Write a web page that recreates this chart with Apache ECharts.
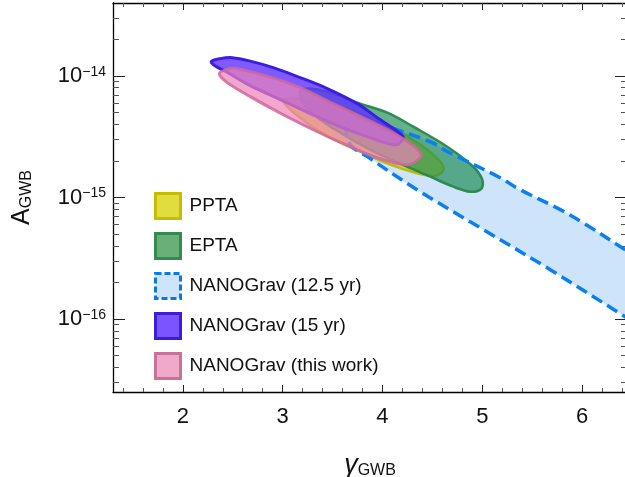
<!DOCTYPE html>
<html>
<head>
<meta charset="utf-8">
<script src="https://cdn.jsdelivr.net/npm/echarts@6/dist/echarts.min.js"></script>
<style>
html, body { margin: 0; padding: 0; background: #fff; }
#chart { width: 625px; height: 477px; }
</style>
</head>
<body>
<div id="chart"></div>
<script>
// axis ranges and tick labels (x = gamma, y = log10 A)
var gammaRange = [1.3, 6.45];
var logARange = [-16.6, -13.4];
var gammaTicks = [2, 3, 4, 5, 6];
var logATicks = [-16, -15, -14];

var legendNames = ['PPTA', 'EPTA', 'NANOGrav (12.5 yr)', 'NANOGrav (15 yr)', 'NANOGrav (this work)'];

// contour outlines, points are [gamma, log10 A]
var ng125Pts = [
    [3.637, -14.426], [3.697, -14.343], [3.878, -14.352], [4.098, -14.428], [4.476, -14.541],
    [4.679, -14.634], [5.180, -14.837], [5.348, -14.922], [5.782, -15.100], [6.015, -15.210],
    [6.432, -15.430], [6.983, -15.718], [7.185, -15.965], [6.983, -16.268], [6.432, -15.981],
    [5.681, -15.594], [5.013, -15.265], [4.346, -14.936], [3.845, -14.662], [3.677, -14.565]
];
var pptaPts = [
    [3.006, -14.195], [3.176, -14.187], [3.477, -14.228], [3.778, -14.310], [4.078, -14.417],
    [4.379, -14.565], [4.579, -14.705], [4.609, -14.779], [4.529, -14.821], [4.329, -14.796],
    [4.078, -14.730], [3.778, -14.623], [3.477, -14.508], [3.227, -14.376], [3.056, -14.261]
];
var eptaPts = [
    [3.176, -14.121], [3.297, -14.105], [3.477, -14.137], [3.747, -14.220], [4.048, -14.302],
    [4.309, -14.417], [4.649, -14.582], [4.910, -14.747], [5.000, -14.853], [4.990, -14.928],
    [4.880, -14.952], [4.709, -14.911], [4.479, -14.829], [4.178, -14.722], [3.877, -14.607],
    [3.577, -14.467], [3.327, -14.327], [3.196, -14.212]
];
var ng15Pts = [
    [2.285, -13.882], [2.375, -13.858], [2.495, -13.850], [2.675, -13.878], [2.905, -13.932],
    [3.176, -14.014], [3.447, -14.104], [3.747, -14.228], [3.948, -14.343], [4.098, -14.426],
    [4.188, -14.483], [4.208, -14.516], [4.128, -14.566], [3.878, -14.508], [3.577, -14.418],
    [3.277, -14.310], [2.976, -14.195], [2.675, -14.080], [2.455, -13.975], [2.325, -13.918]
];
var thisWorkPts = [
    [2.365, -13.981], [2.435, -13.948], [2.525, -13.936], [2.846, -14.002], [3.176, -14.096],
    [3.507, -14.228], [3.848, -14.360], [4.108, -14.467], [4.309, -14.574], [4.379, -14.632],
    [4.379, -14.673], [4.248, -14.730], [3.978, -14.681], [3.677, -14.582], [3.347, -14.459],
    [3.006, -14.319], [2.675, -14.170], [2.445, -14.055]
];

var font = 'Liberation Sans, Arial, sans-serif';

// minor ticks: 0.2 steps on gamma, 2..9 x 10^n on A
var gammaMinor = [];
for (var i = 14; i < 65; i += 2) {
    if (i % 10 != 0) gammaMinor.push(i / 10);
}
var logAMinor = [];
for (var n = -17; n <= -14; n++) {
    for (var k = 2; k <= 9; k++) {
        var v = n + Math.log10(k);
        if (v > logARange[0] && v < logARange[1]) logAMinor.push(v);
    }
}

function xAx(pos, ticks, len, major) {
    return {
        type: 'value', position: pos, min: gammaRange[0], max: gammaRange[1],
        axisLine: {show: major, onZero: false, lineStyle: {color: '#000', width: 1.3}},
        axisTick: {show: true, inside: true, length: len, customValues: ticks,
            lineStyle: {color: major ? '#222' : '#555', width: 1}},
        axisLabel: {show: false},
        splitLine: {show: false}
    };
}
function yAx(pos, ticks, len, major) {
    return {
        type: 'value', position: pos, min: logARange[0], max: logARange[1],
        axisLine: {show: major, onZero: false, lineStyle: {color: '#000', width: 1.3}},
        axisTick: {show: true, inside: true, length: len, customValues: ticks,
            lineStyle: {color: major ? '#222' : '#555', width: 1}},
        axisLabel: {show: false},
        splitLine: {show: false}
    };
}

var xAxes = [xAx('bottom', gammaTicks, 7, true), xAx('bottom', gammaMinor, 4, false),
    xAx('top', gammaTicks, 7, true), xAx('top', gammaMinor, 4, false)];
xAxes[0].axisLabel = {show: true, customValues: gammaTicks, fontSize: 22, margin: 14,
    color: '#111', fontFamily: font};
xAxes[0].name = '{g|γ}{s|GWB}';
xAxes[0].nameLocation = 'middle';
xAxes[0].nameGap = 59;
xAxes[0].nameTextStyle = {
    rich: {
        g: {fontSize: 27, fontStyle: 'italic', fontFamily: font, color: '#111', verticalAlign: 'bottom', lineHeight: 28},
        s: {fontSize: 16, fontFamily: font, color: '#111', verticalAlign: 'bottom', lineHeight: 22}
    }
};

var yAxes = [yAx('left', logATicks, 12, true), yAx('left', logAMinor, 6, false),
    yAx('right', logATicks, 12, true), yAx('right', logAMinor, 6, false)];
yAxes[0].axisLabel = {
    show: true, customValues: logATicks, margin: 7,
    formatter: function (v) {
        return '{b|10}{s|\u2212' + Math.round(-v) + '}';
    },
    rich: {
        b: {fontSize: 22, fontFamily: font, color: '#111', lineHeight: 22, verticalAlign: 'bottom'},
        s: {fontSize: 14, fontFamily: font, color: '#111', lineHeight: 14, verticalAlign: 'top'}
    }
};
yAxes[0].name = '{a|A}{s|GWB}';
yAxes[0].nameLocation = 'middle';
yAxes[0].nameRotate = 90;
yAxes[0].nameGap = 78;
yAxes[0].nameTextStyle = {
    rich: {
        a: {fontSize: 25, fontFamily: font, color: '#111', verticalAlign: 'bottom', lineHeight: 28},
        s: {fontSize: 16, fontFamily: font, color: '#111', verticalAlign: 'bottom', lineHeight: 22}
    }
};

// one closed contour per custom series, drawn through the axes
function region(name, pts, style) {
    return {
        type: 'custom',
        name: name,
        coordinateSystem: 'cartesian2d',
        clip: true,
        silent: true,
        encode: {x: 0, y: 1},
        data: pts,
        itemStyle: {color: style.fill || 'none', borderColor: style.stroke},
        renderItem: function (params, api) {
            if (params.dataIndex != 0) return;
            var points = pts.map(function (p) {
                return api.coord(p);
            });
            return {
                type: 'polygon',
                shape: {points: points, smooth: 0.35},
                style: {
                    fill: style.fill || 'none',
                    stroke: style.stroke || 'none',
                    lineWidth: style.width || 0,
                    lineDash: style.dash || null
                }
            };
        }
    };
}

var option = {
    animation: false,
    backgroundColor: '#fff',
    grid: {left: 113, top: 3, width: 514, height: 389, containLabel: false, outerBoundsMode: 'none'},
    xAxis: xAxes,
    yAxis: yAxes,
    legend: {
        orient: 'vertical', left: 154, top: 192, padding: 0,
        itemWidth: 25, itemHeight: 25, itemGap: 12,
        selectedMode: false,
        textStyle: {fontSize: 19, color: '#111', fontFamily: font, padding: [0, 0, 0, 4]},
        data: [
            {name: legendNames[0], icon: 'rect', itemStyle: {color: '#e1dd3e', borderColor: '#c6bd00', borderWidth: 3}},
            {name: legendNames[1], icon: 'rect', itemStyle: {color: '#67b178', borderColor: '#348a4f', borderWidth: 3}},
            {name: legendNames[2], icon: 'rect', itemStyle: {color: '#cde4fa', borderColor: '#0a78e6', borderWidth: 3, borderType: [6, 3]}},
            {name: legendNames[3], icon: 'rect', itemStyle: {color: '#7b53ff', borderColor: '#3a1cd9', borderWidth: 3}},
            {name: legendNames[4], icon: 'rect', itemStyle: {color: '#f1a9c9', borderColor: '#c77399', borderWidth: 3}}
        ]
    },
    series: [
        region(legendNames[2], ng125Pts, {fill: 'rgb(205,228,250)'}),
        region(legendNames[0], pptaPts, {fill: 'rgba(212,205,0,0.72)', stroke: 'rgba(190,180,0,0.9)', width: 2.5}),
        region(legendNames[1], eptaPts, {fill: 'rgba(30,140,85,0.68)', stroke: 'rgba(40,135,75,0.95)', width: 2.5}),
        region('ng125-outline', ng125Pts, {stroke: '#0a80f0', width: 3.5, dash: [12, 6]}),
        region(legendNames[3], ng15Pts, {fill: 'rgba(95,50,255,0.8)', stroke: '#3c1ee0', width: 3}),
        region(legendNames[4], thisWorkPts, {fill: 'rgba(238,130,185,0.7)', stroke: 'rgba(205,105,155,0.85)', width: 3})
    ]
};

var myChart = echarts.init(document.getElementById('chart'));
myChart.setOption(option);
</script>
</body>
</html>
